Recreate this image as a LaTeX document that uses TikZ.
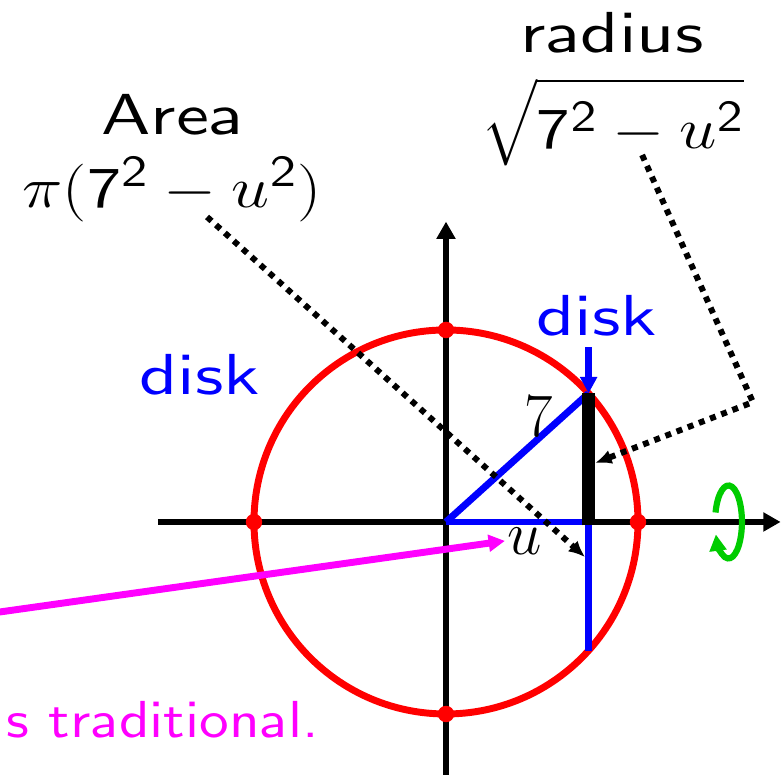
\RequirePackage{fix-cm}
\documentclass[tikz,border=0pt]{standalone}
\usepackage{amsmath,graphicx}
\usetikzlibrary{arrows.meta,calc}
\DeclareFontFamily{OT1}{ssten}{}
\DeclareFontShape{OT1}{ssten}{m}{n}{<-> cmss10}{}
\DeclareMathAlphabet{\mathsf}{OT1}{ssten}{m}{n}
\newcommand{\cmsans}{\fontencoding{OT1}\fontfamily{ssten}\selectfont}
\newcommand{\sqd}{^{\mbox{\cmsans\fontsize{23}{23}\selectfont 2}}}
\definecolor{rotgreen}{RGB}{0,204,0}
\definecolor{pink}{RGB}{255,0,255}
\tikzset{
  every picture/.style={line width=3.6pt},
  axline/.style={-{Triangle[length=9pt,width=9.5pt]}},
  lbl/.style={inner sep=0,font=\cmsans\fontsize{30}{36}\selectfont},
  mlbl/.style={inner sep=0,font=\fontsize{32}{38}\selectfont},
  note/.style={inner sep=0,font=\cmsans\fontsize{27}{32}\selectfont,pink},
  ptr/.style={line width=3.1pt,dash pattern=on 3.1pt off 3.1pt,-{Latex[length=8.5pt,width=7.5pt]}},
  tip/.style={-{Triangle[length=8.5pt,width=8.5pt]}},
}
\newcommand{\wide}[2][1.28]{\scalebox{#1}[1]{#2}}

\begin{document}
\begin{tikzpicture}[x=0.5cm,y=0.5cm]
\useasboundingbox (-16.26,-9.19) rectangle (12.25,19.03);
\clip (-16.26,-9.19) rectangle (12.25,19.03);
% key points of the slice at u
\coordinate (O) at (0,0);
\coordinate (P) at (5.2,4.69);
\coordinate (Q) at (5.2,0);
\coordinate (R) at (5.2,-4.69);
\coordinate (G) at (10.3,0);
% axes
\draw[axline] (-10.5,0) -- (12.2,0);
\draw[axline] (0,-9.5) -- (0,10.95);
% circle of radius 7
\draw[red] (O) circle (7);
% triangle and slice
\draw[blue] (O) -- (P);
\draw[blue] (O) -- (Q) -- (R);
\draw[line width=6.7pt] (5.2,-0.12) -- (P);
\foreach \a in {0,90,180,270}{\fill[red] (\a:7) circle (0.3);}
% labels
\node[mlbl,anchor=base] (seven) at (3.39,3.10) {$7$};
\node[mlbl,anchor=base] (uu) at (2.88,-1.20) {$u$};
\node[lbl,blue,anchor=base] (diskT) at (5.49,6.80) {\wide{disk}};
\node[lbl,blue,anchor=base] (diskL) at (-8.97,4.63) {\wide{disk}};
\draw[blue,tip] ($(diskT.south -| P)+(0,-0.3)$) -- (P);
\node[lbl,anchor=base] (area) at (-9.95,14.11) {\wide{Area}};
\node[lbl,anchor=base] (areaF) at (-9.99,11.45) {\wide[1.18]{$\pi(\mathsf{7}\sqd-u\sqd)$}};
\node[lbl,anchor=base] (rad) at (6.05,17.10) {\wide{radius}};
\node[lbl,anchor=base] (radF) at (6.07,13.63) {\wide[1.16]{$\sqrt{\rule[-0.28em]{0pt}{1.36em}\mathsf{7}\sqd-u\sqd}$}};
% pointers
\coordinate (aFrom) at (-8.71,11.12);
\coordinate (aTo) at (5.07,-1.28);
\coordinate (rFrom) at (7.15,13.38);
\coordinate (rBend) at (11.19,4.37);
\coordinate (rTo) at (5.44,2.15);
\draw[ptr] (aFrom) -- (aTo);
\draw[ptr] (rFrom) -- (rBend) -- (rTo);
% note
\coordinate (mFrom) at (-16.4,-3.30);
\coordinate (mTo) at (2.15,-0.69);
\draw[pink,tip] (mFrom) -- (mTo);
\node[note,anchor=base west] (trad) at (-16.15,-7.87) {\wide[1.14]{s traditional.}};
% rotation about the axis
\draw[rotgreen,line width=3.2pt,tip] ($(G)+(165:0.49 and 1.33)$) arc[start angle=165,end angle=-160,x radius=0.49,y radius=1.33];
\end{tikzpicture}
\end{document}
